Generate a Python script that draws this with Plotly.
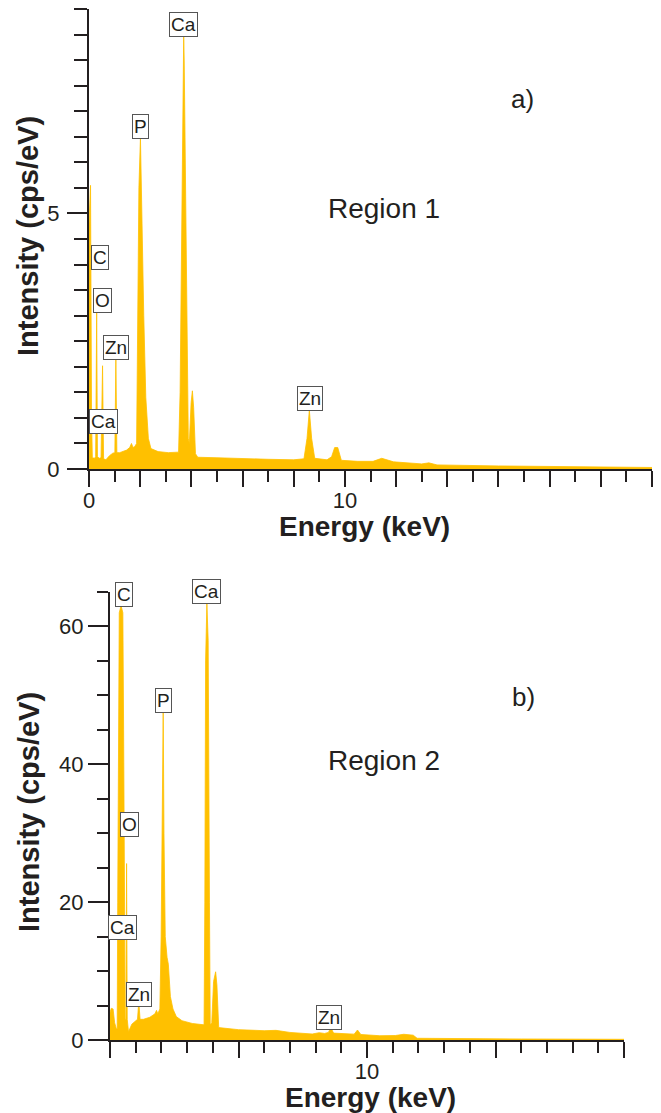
import plotly.graph_objects as go

W, H = 661, 1113
FILL = "#FFC000"
INK = "#231f20"
FONT = "Liberation Sans"

# ---------- data: region 1 (panel a) ----------
r1_energy = [0.00, 0.06, 0.10, 0.13, 0.22, 0.26, 0.30, 0.33, 0.40, 0.47, 0.53, 0.57, 0.66, 0.80, 0.93,
             1.01, 1.05, 1.09, 1.20, 1.47, 1.59, 1.66, 1.72, 1.79, 1.86, 1.89, 1.95, 2.01, 2.06, 2.14,
             2.22, 2.32, 2.42, 2.70, 3.10, 3.50, 3.56, 3.62, 3.68, 3.70, 3.72, 3.80, 3.88, 3.92, 3.99,
             4.04, 4.09, 4.16, 4.25, 5.00, 6.00, 7.00, 8.00, 8.40, 8.52, 8.61, 8.70, 8.82, 9.30, 9.48,
             9.60, 9.72, 9.86, 10.50, 11.10, 11.44, 11.90, 13.00, 13.28, 13.60, 16.00, 19.00, 22.00]
r1_counts = [4.80, 5.55, 1.00, 0.22, 0.21, 0.24, 3.07, 0.24, 0.21, 0.22, 2.02, 0.20, 0.18, 0.26, 0.31,
             0.32, 2.17, 0.32, 0.32, 0.37, 0.42, 0.50, 0.42, 0.44, 0.50, 2.50, 5.50, 6.48, 5.00, 3.00,
             1.40, 0.60, 0.40, 0.34, 0.32, 0.33, 1.50, 4.50, 8.00, 8.48, 8.00, 4.00, 0.60, 0.50, 1.30,
             1.53, 1.20, 0.30, 0.23, 0.22, 0.20, 0.19, 0.18, 0.20, 0.60, 1.15, 0.60, 0.21, 0.18, 0.24,
             0.42, 0.42, 0.17, 0.15, 0.15, 0.21, 0.14, 0.10, 0.12, 0.08, 0.06, 0.04, 0.03]

# ---------- data: region 2 (panel b) ----------
r2_energy = [0.00, 0.05, 0.12, 0.18, 0.25, 0.28, 0.30, 0.33, 0.36, 0.43, 0.50, 0.53, 0.56, 0.59, 0.62,
             0.645, 0.67, 0.72, 0.85, 1.00, 1.07, 1.12, 1.17, 1.30, 1.55, 1.75, 1.81, 1.86, 1.94, 1.99,
             2.04, 2.07, 2.10, 2.15, 2.22, 2.27, 2.35, 2.45, 2.58, 2.80, 3.20, 3.50, 3.66, 3.69, 3.72,
             3.77, 3.82, 3.87, 3.90, 3.96, 4.03, 4.11, 4.16, 4.23, 4.50, 5.00, 6.00, 6.46, 7.00, 7.87,
             8.14, 8.35, 8.50, 8.59, 8.70, 9.20, 9.50, 9.63, 9.76, 10.50, 11.10, 11.43, 11.80, 11.95,
             13.00, 16.00, 20.00]
r2_counts = [4.00, 4.60, 4.50, 2.50, 1.60, 1.60, 20.0, 55.0, 62.0, 63.0, 62.0, 45.0, 20.0, 3.00, 3.00,
             25.6, 3.00, 1.20, 2.30, 2.80, 3.00, 5.60, 3.00, 3.00, 3.30, 3.80, 4.30, 3.80, 4.50, 15.0,
             38.0, 47.8, 30.0, 15.0, 12.0, 11.0, 6.30, 4.50, 3.40, 2.80, 2.40, 2.20, 2.20, 20.0, 55.0,
             63.3, 58.0, 20.0, 2.20, 2.50, 8.50, 9.90, 8.00, 1.80, 1.70, 1.50, 1.35, 1.40, 1.10, 0.87,
             1.06, 0.95, 1.10, 1.80, 1.00, 0.90, 0.85, 1.45, 0.80, 0.62, 0.65, 0.83, 0.70, 0.25,
             0.20, 0.15, 0.10]

# ---------- peak labels ----------
r1_labels = ["Ca", "P", "C", "O", "Zn", "Ca", "Zn"]
r2_labels = ["C", "Ca", "P", "O", "Ca", "Zn", "Zn"]

# ---------- axis tick text ----------
r1_xticks = [0, 2, 4, 6, 8, 10, 12, 14, 16, 18, 20, 22]
r1_xtext = ["0", "", "", "", "", "10", "", "", "", "", "", ""]
r1_yticks = [0, 5]
r1_ytext = ["0", "5"]
r2_xticks = [0, 5, 10, 15, 20]
r2_xtext = ["", "", "10", "", ""]
r2_yticks = [0, 20, 40, 60]
r2_ytext = ["0", "20", "40", "60"]


def px(x):
    return x / W


def py(y):
    return 1 - y / H


fig = go.Figure()
fig.add_trace(go.Scatter(x=r1_energy, y=r1_counts, mode="lines", fill="tozeroy",
                         line=dict(color=FILL, width=0.8), fillcolor=FILL,
                         xaxis="x", yaxis="y", hoverinfo="skip"))
fig.add_trace(go.Scatter(x=r2_energy, y=r2_counts, mode="lines", fill="tozeroy",
                         line=dict(color=FILL, width=0.8), fillcolor=FILL,
                         xaxis="x2", yaxis="y2", hoverinfo="skip"))

tickfont = dict(family=FONT, size=22, color=INK)
common = dict(showline=True, linecolor=INK, linewidth=2, ticks="outside", tickcolor=INK,
              tickwidth=2, showgrid=False, zeroline=False, tickfont=tickfont, fixedrange=True,
              automargin=False)

fig.update_layout(
    width=W, height=H, margin=dict(l=0, r=0, t=0, b=0, autoexpand=False),
    paper_bgcolor="white", plot_bgcolor="white", showlegend=False,
    xaxis=dict(domain=[px(89), px(652)], range=[0, 22], anchor="y",
               tickmode="array", tickvals=r1_xticks, ticktext=r1_xtext, ticklen=16,
               minor=dict(dtick=1, ticklen=11, tickwidth=2, tickcolor=INK, ticks="outside"),
               ticklabelstandoff=-5, **common),
    yaxis=dict(domain=[py(469), py(9)], range=[0, 9], anchor="x",
               tickmode="array", tickvals=r1_yticks, ticktext=r1_ytext, ticklen=20,
               minor=dict(dtick=0.5, ticklen=13, tickwidth=2, tickcolor=INK, ticks="outside"),
               ticklabelstandoff=3, **common),
    xaxis2=dict(domain=[px(110), px(624)], range=[0, 20], anchor="y2",
                tickmode="array", tickvals=r2_xticks, ticktext=r2_xtext, ticklen=16,
                minor=dict(dtick=1, ticklen=11, tickwidth=2, tickcolor=INK, ticks="outside"),
                ticklabelstandoff=-5, **common),
    yaxis2=dict(domain=[py(1040), py(592)], range=[0, 65], anchor="x2",
                tickmode="array", tickvals=r2_yticks, ticktext=r2_ytext, ticklen=20,
                minor=dict(dtick=5, ticklen=11, tickwidth=2, tickcolor=INK, ticks="outside"),
                ticklabelstandoff=0, **common),
)

ann = []
# peak label boxes (pixel centres)
r1_pos = [(183.5, 24), (140.5, 127), (99.5, 257), (102.5, 301), (116, 347), (103, 421), (310, 399)]
r2_pos = [(124, 594.5), (206.5, 592), (163, 700), (129.5, 824.5), (122, 927), (139, 994), (328.5, 1017)]
for labels, poss in ((r1_labels, r1_pos), (r2_labels, r2_pos)):
    for t, (x, y) in zip(labels, poss):
        ann.append(dict(text=t, x=px(x), y=py(y), xref="paper", yref="paper", showarrow=False,
                        xanchor="center", yanchor="middle",
                        font=dict(family=FONT, size=19, color=INK),
                        bordercolor="#555555", borderwidth=1, borderpad=1, bgcolor="white"))

def txt(t, x, y, size, bold=False, angle=0):
    return dict(text=f"<b>{t}</b>" if bold else t, x=px(x), y=py(y), xref="paper", yref="paper",
                showarrow=False, xanchor="center", yanchor="middle", textangle=angle,
                font=dict(family=FONT, size=size, color=INK))

ann += [
    txt("Intensity (cps/eV)", 28.5, 236.5, 29, True, -90),
    txt("Energy (keV)", 364, 527, 28, True),
    txt("Intensity (cps/eV)", 28.5, 812.5, 29, True, -90),
    txt("Energy (keV)", 370, 1097, 28, True),
    txt("a)", 522, 99, 26),
    txt("Region 1", 384, 208, 28),
    txt("b)", 523, 697, 26),
    txt("Region 2", 384, 760, 28),
]
fig.update_layout(annotations=ann)

fig.write_html("out.html", config={"displayModeBar": False},
               post_script="document.body.style.margin='0px';")
